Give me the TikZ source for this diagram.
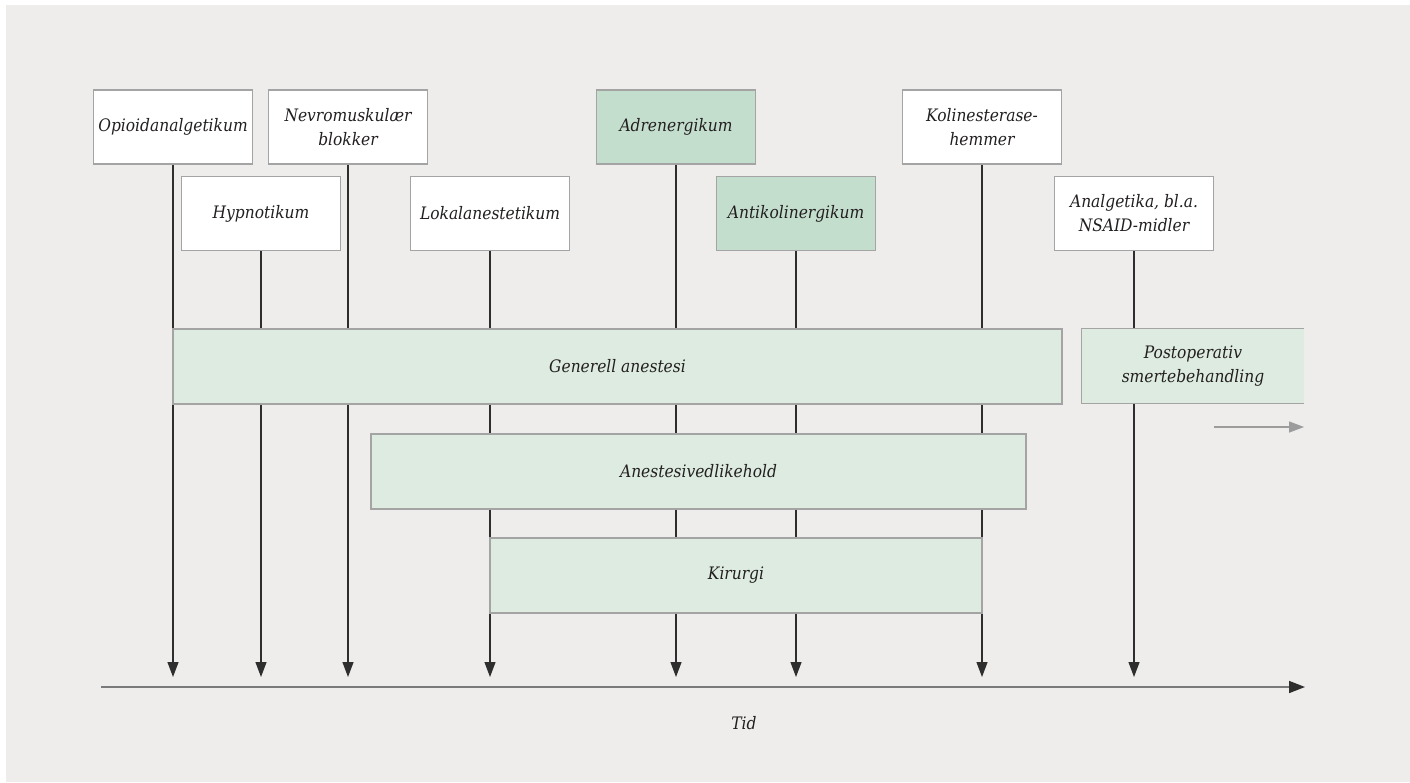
\documentclass[tikz,border=0pt]{standalone}
\usepackage{fontspec}
\setmainfont{DejaVu Serif Condensed}
\usetikzlibrary{arrows.meta}
\definecolor{bgc}{HTML}{EEEDEB}
\definecolor{boxline}{HTML}{A4A4A4}
\definecolor{lightg}{HTML}{DDEBE1}
\definecolor{darkg}{HTML}{C4DECE}
\definecolor{txt}{HTML}{231F20}
\definecolor{vline}{HTML}{2E2E2E}
\definecolor{axisc}{HTML}{7A7A7A}
\definecolor{greyarr}{HTML}{9C9C9C}
\tikzset{
  lbl/.style={font=\fontsize{17.2}{24}\selectfont\itshape, text=txt, align=center},
  drugbox/.style={lbl, draw=boxline, line width=1.3pt, fill=white, rectangle, inner sep=0pt, minimum width=159pt, minimum height=74pt},
  drugboxg/.style={drugbox, fill=darkg},
  phase/.style={lbl, draw=boxline, line width=1.3pt, fill=lightg, rectangle, inner sep=0pt, minimum height=75pt},
  conn/.style={draw=vline, line width=1.2pt, -{Triangle[length=15pt,width=11pt]}},
}
\begin{document}
\begin{tikzpicture}[x=1pt,y=-1pt]
\useasboundingbox (0,0) rectangle (1410,782);
\fill[white] (0,0) rectangle (1410,782);
\fill[bgc] (6,5) rectangle (1410,782);
% coordinates for arrow tips and axis
\coordinate (tip) at (0,677);
\coordinate (axL) at (101,687);
\coordinate (axR) at (1305,687);
\coordinate (g1) at (1214,427);
\coordinate (g2) at (1304,427);
% drug boxes
\node[drugbox] (opi) at (173,127) {Opioidanalgetikum};
\node[drugbox] (nev) at (348,127) {Nevromuskulær\\blokker};
\node[drugbox] (hyp) at (261,213.5) {Hypnotikum};
\node[drugbox] (lok) at (490,213.5) {Lokalanestetikum};
\node[drugboxg] (adr) at (676,127) {Adrenergikum};
\node[drugboxg] (ant) at (796,213.5) {Antikolinergikum};
\node[drugbox] (kol) at (982,127) {Kolinesterase-\\hemmer};
\node[drugbox] (ana) at (1134,213.5) {Analgetika, bl.a.\\NSAID-midler};
% connectors
\draw[conn] (opi.south) -- (opi.south |- tip);
\draw[conn] (hyp.south) -- (hyp.south |- tip);
\draw[conn] (nev.south) -- (nev.south |- tip);
\draw[conn] (lok.south) -- (lok.south |- tip);
\draw[conn] (adr.south) -- (adr.south |- tip);
\draw[conn] (ant.south) -- (ant.south |- tip);
\draw[conn] (kol.south) -- (kol.south |- tip);
\draw[conn] (ana.south) -- (ana.south |- tip);
% phase boxes
\node[phase, minimum width=889pt] (gen) at (617.5,366.5) {Generell anestesi};
\node[phase, minimum width=655pt] (ved) at (698.5,471.5) {Anestesivedlikehold};
\node[phase, minimum width=492pt] (kir) at (736,575.5) {Kirurgi};
\node[lbl, fill=lightg, rectangle, inner sep=0pt, minimum width=222pt, minimum height=75pt] (post) at (1193,366) {Postoperativ\\smertebehandling};
\draw[boxline, line width=1.3pt] (post.north east) -- (post.north west) -- (post.south west) -- (post.south east);
% continuation arrow
\draw[greyarr, line width=1.3pt, -{Triangle[length=15pt,width=11pt]}] (g1) -- (g2);
% time axis
\draw[axisc, line width=1.6pt, -{Triangle[length=16pt,width=12pt, fill=vline, color=vline]}] (axL) -- (axR);
\node[lbl, anchor=base] (tid) at (744,729) {Tid};
\end{tikzpicture}
\end{document}
